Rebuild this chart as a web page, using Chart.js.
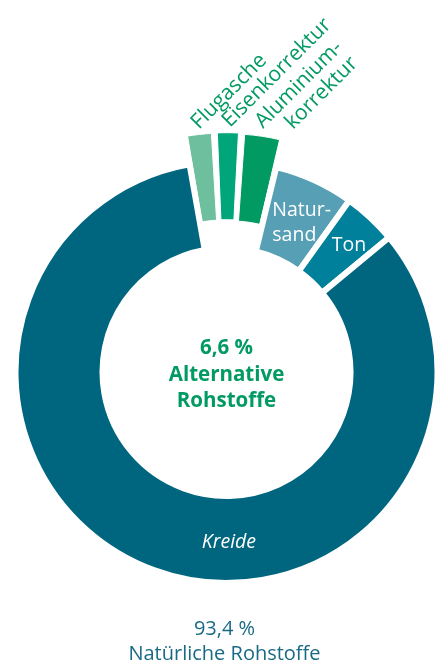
<!DOCTYPE html>
<html lang="de">
<head>
<meta charset="utf-8">
<script src="https://cdn.jsdelivr.net/npm/chart.js@4.4.1/dist/chart.umd.min.js"></script>
<style>
  html, body { margin: 0; padding: 0; background: #ffffff; overflow: hidden; }
  #wrap { position: relative; width: 436px; height: 662px; overflow: hidden; }
  #c { position: absolute; left: 0; top: 0; }
  #layer { position: absolute; left: 0; top: 0; width: 436px; height: 662px; }
  .lbl { position: absolute; left: 0; top: 0; white-space: nowrap; }
</style>
</head>
<body>
<div id="wrap">
  <canvas id="c" width="436" height="662"></canvas>
  <div id="layer"></div>
</div>
<script>
// ---------- data ----------
const categories = ['Flugasche', 'Eisenkorrektur', 'Aluminiumkorrektur', 'Natursand', 'Ton', 'Kreide'];
const shares = [2.0, 1.8, 2.8, 6.1, 4.1, 83.2];            // % of raw materials
const groupOf = ['alt', 'alt', 'alt', 'nat', 'nat', 'nat'];
const segmentLabels = [['Flugasche'], ['Eisenkorrektur'], ['Aluminium-', 'korrektur'], ['Natur-', 'sand'], ['Ton'], ['Kreide']];
const altGroupLabel = ['Alternative', 'Rohstoffe'];
const natGroupLabel = ['Natürliche Rohstoffe'];

// ---------- style ----------
const COLORS = ['#6dbf9d', '#00a67a', '#009a62', '#569fb4', '#00809b', '#00667f'];
const GREEN_TEXT = '#009a62';
const BLUE_TEXT = '#1a6a85';
const FONT = '"Open Sans", "Noto Sans", sans-serif';
const LABEL_STYLE = [
  { kind: 'rot', frac: 0.30, gap: 41, across: 11, rot: -45, size: 21, color: GREEN_TEXT, align: 'left', lh: 21 },
  { kind: 'rot', frac: 0.30, gap: 41, across: 11, rot: -45, size: 21, color: GREEN_TEXT, align: 'left', lh: 21 },
  { kind: 'rot', frac: 0.30, gap: 41, across: 11, rot: -45, size: 21, color: GREEN_TEXT, align: 'right', lh: 21 },
  { kind: 'in', frac: 0.585, rFrac: 0.51, size: 19.5, color: '#ffffff', align: 'left', lh: 25, italic: false },
  { kind: 'in', frac: 0.55, rFrac: 0.61, size: 19.5, color: '#ffffff', align: 'center', lh: 25, italic: false },
  { kind: 'in', frac: 0.43, rFrac: 0.52, size: 19.5, color: '#ffffff', align: 'center', lh: 25, italic: true }
];

function fmtPct(v) { return v.toFixed(1).replace('.', ',') + ' %'; }
const altTotal = shares.filter((v, i) => groupOf[i] === 'alt').reduce((a, b) => a + b, 0);
const natTotal = shares.filter((v, i) => groupOf[i] === 'nat').reduce((a, b) => a + b, 0);

const chart = new Chart(document.getElementById('c'), {
  type: 'doughnut',
  data: {
    labels: categories,
    datasets: [{
      data: shares,
      backgroundColor: COLORS,
      borderColor: '#ffffff',
      borderWidth: (c) => groupOf[c.dataIndex] === 'alt' ? 1 : 6,
      borderJoinStyle: 'miter',
      offset: (c) => groupOf[c.dataIndex] === 'alt' ? 60 : 0,
      hoverOffset: 0
    }]
  },
  options: {
    responsive: false,
    animation: false,
    events: [],
    rotation: -10.1,
    radius: 211,
    cutout: '58.77%',
    layout: { padding: { left: 17, top: 82, right: 0, bottom: 0 } },
    plugins: { legend: { display: false }, tooltip: { enabled: false } }
  }
});

// ---------- text layer (real HTML text, placed from the chart geometry) ----------
const layer = document.getElementById('layer');
function makeLine(text, o) {
  const d = document.createElement('div');
  d.className = 'lbl';
  d.style.font = (o.italic ? 'italic ' : 'normal ') + (o.weight || 400) + ' ' + o.size + 'px ' + FONT;
  d.style.color = o.color;
  d.appendChild(document.createTextNode(text));
  const m = document.createElement('span');
  m.style.cssText = 'display:inline-block;width:0;height:0;vertical-align:baseline;';
  d.appendChild(m);
  layer.appendChild(d);
  return { el: d, w: d.getBoundingClientRect().width, base: m.offsetTop };
}
function putLine(L, x, y, align, rot) {
  const ax = align === 'center' ? L.w / 2 : (align === 'right' ? L.w : 0);
  L.el.style.left = (x - ax) + 'px';
  L.el.style.top = (y - L.base) + 'px';
  if (rot) {
    L.el.style.transformOrigin = ax + 'px ' + L.base + 'px';
    L.el.style.transform = 'rotate(' + rot + 'deg)';
  }
}

const meta = chart.getDatasetMeta(0);
meta.data.forEach((arc, i) => {
  const s = LABEL_STYLE[i];
  const p = arc.getProps(['x', 'y', 'startAngle', 'endAngle', 'innerRadius', 'outerRadius'], true);
  const ang = p.startAngle + s.frac * (p.endAngle - p.startAngle);
  const lines = segmentLabels[i].map(t => makeLine(t, s));
  if (s.kind === 'rot') {
    const r = p.outerRadius + s.gap;
    const a = s.rot * Math.PI / 180;
    const u = [Math.cos(a), Math.sin(a)], v = [-Math.sin(a), Math.cos(a)];
    const ax = p.x + Math.cos(ang) * r + v[0] * s.across;
    const ay = p.y + Math.sin(ang) * r + v[1] * s.across;
    const w0 = lines[0].w;
    lines.forEach((L, k) => {
      const along = s.align === 'right' ? (w0 - L.w) : 0;
      const x = ax + u[0] * along + v[0] * s.lh * k;
      const y = ay + u[1] * along + v[1] * s.lh * k;
      putLine(L, x, y, 'left', s.rot);
    });
  } else {
    const r = p.innerRadius + s.rFrac * (p.outerRadius - p.innerRadius);
    const cx = p.x + Math.cos(ang) * r, cy = p.y + Math.sin(ang) * r;
    const cap = s.size * 0.714;
    const n = lines.length;
    const firstBase = cy - (n - 1) * s.lh / 2 + cap / 2;
    const maxW = Math.max(...lines.map(L => L.w));
    lines.forEach((L, k) => {
      const y = firstBase + k * s.lh;
      if (s.align === 'left') putLine(L, cx - maxW / 2, y, 'left');
      else putLine(L, cx, y, 'center');
    });
  }
});

// centre text & bottom text
const c0 = meta.data[0];
const ccx = c0.x, ccy = c0.y, R = c0.outerRadius;
const centreLines = [fmtPct(altTotal)].concat(altGroupLabel);
centreLines.forEach((t, k) => {
  const L = makeLine(t, { size: 20.5, weight: 700, color: GREEN_TEXT });
  putLine(L, ccx, ccy - 18 + k * 26.5, 'center');
});
const bottomLines = [fmtPct(natTotal)].concat(natGroupLabel);
bottomLines.forEach((t, k) => {
  const L = makeLine(t, { size: 20, weight: 400, color: BLUE_TEXT });
  putLine(L, ccx - 2, ccy + R + 52 + k * 25, 'center');
});
</script>
</body>
</html>
